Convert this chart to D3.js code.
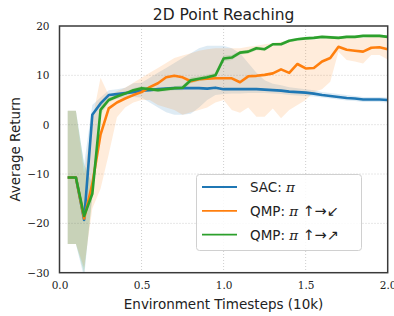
<!DOCTYPE html>
<html>
<head>
<meta charset="utf-8">
<title>2D Point Reaching</title>
<script src="https://cdn.jsdelivr.net/npm/d3@7"></script>
<style>
  body { margin: 0; background: #fff; }
  .tick text { font-family: "DejaVu Serif", "Liberation Serif", serif; font-size: 10.5px; fill: #222; }
</style>
</head>
<body>
<script>

var steps = [0.05,0.1,0.15,0.2,0.25,0.3,0.35,0.4,0.45,0.5,0.55,0.6,0.65,0.7,0.75,0.8,0.85,0.9,0.95,1.0,
             1.05,1.1,1.15,1.2,1.25,1.3,1.35,1.4,1.45,1.5,1.55,1.6,1.65,1.7,1.75,1.8,1.85,1.9,1.95,2.0]

var sacMean = [-10.7,-10.7,-19.3,2.0,4.3,6.0,6.2,6.4,6.6,6.9,7.0,7.2,7.3,7.4,7.4,7.4,7.4,7.3,7.5,7.2,
               7.2,7.2,7.2,7.2,7.1,7.0,6.9,6.7,6.6,6.5,6.3,6.0,5.8,5.6,5.4,5.3,5.1,5.1,5.1,5.0]
var sacLow = [-24.2,-24.2,-31,-14,2.5,5.0,5.2,5.5,5.6,5.5,4.5,3.5,2.5,2.0,2.0,2.2,3.5,5.0,6.0,6.2,
              6.3,6.3,6.4,6.4,6.4,6.3,6.2,6.0,5.9,5.8,5.7,5.5,5.3,5.1,4.9,4.8,4.6,4.6,4.6,4.5]
var sacHigh = [2.8,2.8,-8,4,5.5,7.0,7.2,7.5,8.4,8.5,9.5,10.5,11.5,12.5,13.5,14.5,15.5,16,16,16,
               15.5,14.5,12.5,10.5,9,8.3,8,7.6,7.4,7.2,7.0,6.6,6.4,6.2,6.0,5.8,5.6,5.6,5.6,5.5]

var downMean = [-10.7,-10.7,-19.0,-12.0,-2.0,3.3,4.5,5.3,6.0,6.6,7.6,8.4,9.6,9.9,9.6,8.8,9.2,9.3,9.4,9.4,
                9.4,8.6,9.8,9.9,10.1,10.4,11.2,10.5,12.3,11.4,11.5,12.8,13.5,15.8,15.2,15.0,14.8,15.6,15.7,15.3]
var downLow = [-24.2,-24.2,-29,-17,-13,-6,1.5,3.5,4.5,5.0,5.0,4.0,3.5,3.0,2.0,2.5,3.0,3.5,4.5,5.0,
               3.0,2.4,3.5,1.6,1.6,3.3,1.3,3.0,4.0,5.0,6.6,7.2,8.7,14.8,13.1,12.8,12.4,14.1,14.1,13.2]
var downHigh = [2.8,2.8,-10,1,9.5,6,6.8,7.5,8.5,9.5,10.5,11.5,12.5,13.5,14.0,14.5,15.0,15.3,15.5,15.5,
                15.5,15.5,15.8,16.0,16.3,16.5,16.8,17.0,17.0,17.2,17.2,17.4,17.5,17.6,17.6,17.6,17.6,17.8,17.8,17.5]

var upMean = [-10.7,-10.7,-18.5,-14.0,3.0,5.0,5.7,6.3,7.0,7.4,7.2,7.0,7.2,7.4,7.5,9.0,9.3,9.6,10.0,13.4,
              13.6,14.6,14.8,15.5,15.3,16.3,16.3,17.0,17.3,17.5,17.6,17.8,17.7,17.6,17.8,17.8,18.0,18.0,18.0,17.8]
var upLow = [-24.2,-24.2,-30,-15,2,4.5,5.3,6.0,6.6,7.0,6.8,6.6,6.8,7.0,7.0,8.4,8.8,9.1,9.5,12.8,
             13.1,14.2,14.4,15.1,15.0,16.0,16.0,16.7,17.0,17.2,17.3,17.5,17.4,17.3,17.5,17.5,17.7,17.7,17.7,17.5]
var upHigh = [2.8,2.8,-8,-12,4,5.5,6.1,6.6,7.4,7.8,7.6,7.4,7.6,7.8,8.0,9.6,9.8,10.1,10.5,14.0,
              14.1,15.0,15.2,15.9,15.6,16.6,16.6,17.3,17.6,17.8,17.9,18.1,18.0,17.9,18.1,18.1,18.3,18.3,18.3,18.1]

var seriesNames = ["SAC: ", "QMP: ", "QMP: "]
var seriesMath = ["\u03c0", "\u03c0 ", "\u03c0 "]
var seriesArrows = ["", "\u2191\u2192\u2199", "\u2191\u2192\u2197"]
var colors = ["#1f77b4", "#ff7f0e", "#2ca02c"]

var xTicks = [0, 0.5, 1.0, 1.5, 2.0]
var yTicks = [-30, -20, -10, 0, 10, 20]

var view_width = 394,
    view_height = 316

var series = [
    {mean: sacMean, low: sacLow, high: sacHigh},
    {mean: downMean, low: downLow, high: downHigh},
    {mean: upMean, low: upLow, high: upHigh}
]

var svg = d3.select('body').append('svg')
    .attr('width', view_width)
    .attr('height', view_height)

var x = d3.scaleLinear().domain([0, 2]).range([59.5, 387.7])
var y = d3.scaleLinear().domain([-30, 20]).range([272.7, 26])

svg.append('clipPath').attr('id', 'plotclip')
    .append('rect')
    .attr('x', x(0)).attr('y', y(20))
    .attr('width', x(2) - x(0)).attr('height', y(-30) - y(20))

// grid
svg.append('g').selectAll('line')
    .data(xTicks.slice(1, -1))
    .enter().append('line')
    .attr('x1', d => x(d)).attr('x2', d => x(d))
    .attr('y1', y(20)).attr('y2', y(-30))
    .attr('stroke', '#cfcfcf').attr('stroke-dasharray', '1,2')
svg.append('g').selectAll('line')
    .data(yTicks.slice(1, -1))
    .enter().append('line')
    .attr('x1', x(0)).attr('x2', x(2))
    .attr('y1', d => y(d)).attr('y2', d => y(d))
    .attr('stroke', '#cfcfcf').attr('stroke-dasharray', '1,2')

var plot = svg.append('g').attr('clip-path', 'url(#plotclip)')

var area = d3.area()
    .x((d, i) => x(steps[i]))
    .y0(d => y(d[0]))
    .y1(d => y(d[1]))
var line = d3.line()
    .x((d, i) => x(steps[i]))
    .y(d => y(d))

series.forEach(function (s, k) {
    plot.append('path')
        .datum(s.low.map((v, i) => [v, s.high[i]]))
        .attr('d', area)
        .attr('fill', colors[k])
        .attr('fill-opacity', 0.15)
})
series.forEach(function (s, k) {
    plot.append('path')
        .datum(s.mean)
        .attr('d', line)
        .attr('fill', 'none')
        .attr('stroke', colors[k])
        .attr('stroke-width', 2.6)
        .attr('stroke-linejoin', 'round')
})

// axes
var xAxis = svg.append('g')
    .attr('transform', 'translate(0,' + y(-30) + ')')
    .call(d3.axisBottom(x).tickValues(xTicks).tickFormat(d3.format('.1f')).tickSize(0).tickPadding(9))
xAxis.select('.domain').remove()

var yAxis = svg.append('g')
    .attr('transform', 'translate(' + x(0) + ',0)')
    .call(d3.axisLeft(y).tickValues(yTicks).tickFormat(d => d < 0 ? '\u2212' + Math.abs(d) : d).tickSize(0).tickPadding(10))
yAxis.select('.domain').remove()

svg.append('rect')
    .attr('x', x(0)).attr('y', y(20))
    .attr('width', x(2) - x(0)).attr('height', y(-30) - y(20))
    .attr('fill', 'none')
    .attr('stroke', '#3a3a3a')
    .attr('stroke-width', 1.5)

// labels
svg.append('text')
    .attr('x', (x(0) + x(2)) / 2).attr('y', 20)
    .attr('text-anchor', 'middle')
    .style('font-family', 'DejaVu Sans')
    .style('font-size', '15.5px')
    .attr('fill', '#222')
    .text('2D Point Reaching')

svg.append('text')
    .attr('x', (x(0) + x(2)) / 2).attr('y', 309)
    .attr('text-anchor', 'middle')
    .style('font-family', 'DejaVu Sans')
    .style('font-size', '13.5px')
    .attr('fill', '#222')
    .text('Environment Timesteps (10k)')

svg.append('text')
    .attr('transform', 'translate(20,' + ((y(20) + y(-30)) / 2) + ') rotate(-90)')
    .attr('text-anchor', 'middle')
    .style('font-family', 'DejaVu Sans')
    .style('font-size', '13.5px')
    .attr('fill', '#222')
    .text('Average Return')

// legend
var legend = svg.append('g')
legend.append('rect')
    .attr('x', 196.5).attr('y', 174.5)
    .attr('width', 165).attr('height', 76)
    .attr('rx', 3)
    .attr('fill', 'white').attr('fill-opacity', 0.85)
    .attr('stroke', '#d0d0d0')

seriesNames.forEach(function (name, k) {
    var ly = 187 + k * 23.8
    legend.append('line')
        .attr('x1', 202).attr('x2', 237)
        .attr('y1', ly).attr('y2', ly)
        .attr('stroke', colors[k]).attr('stroke-width', 1.8)
    var t = legend.append('text')
        .attr('x', 250).attr('y', ly + 5)
        .style('font-family', 'DejaVu Sans')
        .style('font-size', '13.5px')
        .attr('fill', '#222')
    t.append('tspan').text(name)
    t.append('tspan')
        .style('font-family', 'DejaVu Serif')
        .style('font-style', 'italic')
        .text(seriesMath[k])
    t.append('tspan')
        .style('font-family', 'DejaVu Sans')
        .style('font-size', '14.5px')
        .text(seriesArrows[k])
})

</script>
</body>
</html>
